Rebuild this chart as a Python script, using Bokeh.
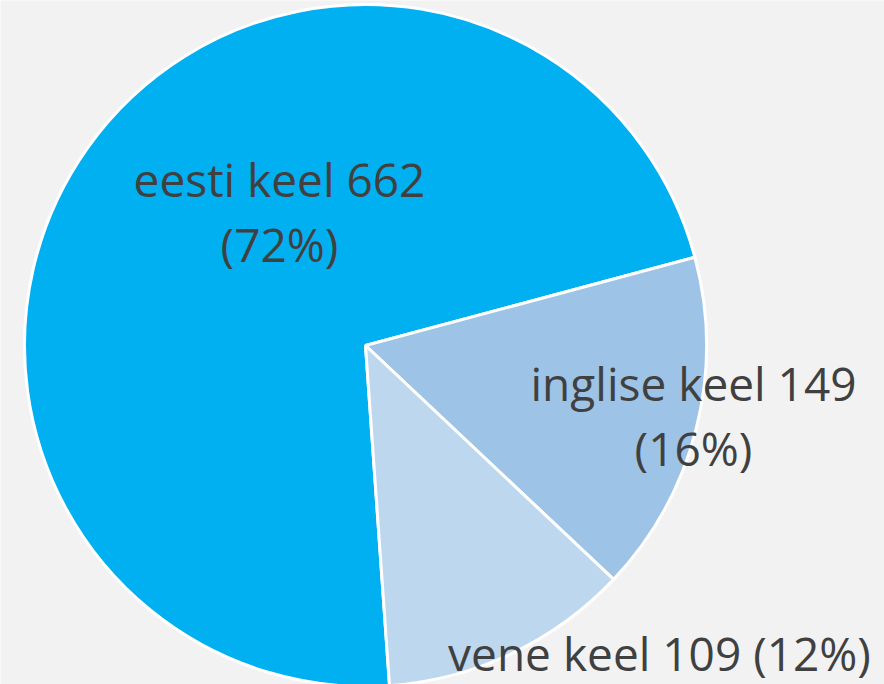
import math
from bokeh.plotting import figure
from bokeh.models import Range1d, ColumnDataSource
from bokeh.core.properties import value
from bokeh.embed import file_html
from bokeh.resources import INLINE

# ---- data ----
categories = ["eesti keel", "inglise keel", "vene keel"]
counts = [662, 149, 109]
percents = ["72%", "16%", "12%"]
colors = ["#00b0f0", "#9dc3e6", "#bdd7ee"]

# ---- layout ----
W, H = 884, 684
cx, cy, R = 365, 339, 341
first_angle = 274.04  # degrees, start of first slice (clockwise)

total = sum(counts)
starts, ends = [], []
a = math.radians(first_angle)
for c in counts:
    sweep = 2 * math.pi * c / total
    starts.append(a)
    ends.append(a - sweep)
    a -= sweep

src = ColumnDataSource(dict(start=starts, end=ends, color=colors))

p = figure(width=W, height=H, x_range=Range1d(0, W), y_range=Range1d(0, H),
           output_backend="svg", toolbar_location=None, min_border=0,
           background_fill_color="#f2f2f2", border_fill_color="#f2f2f2")
p.axis.visible = False
p.grid.visible = False
p.outline_line_color = None

p.wedge(x=cx, y=cy, radius=R, start_angle="start", end_angle="end",
        direction="clock", fill_color="color", line_color="white",
        line_width=3, source=src)

font = value("Open Sans")
fs = "46px"
tc = "#404040"
# label lines: (text, x, baseline y)
lines = [
    (f"{categories[0]} {counts[0]}", 279, 506),
    (f"({percents[0]})", 279, 441),
    (f"{categories[1]} {counts[1]}", 693, 302),
    (f"({percents[1]})", 693, 237),
    (f"{categories[2]} {counts[2]} ({percents[2]})", 659, 32),
]
p.text(x=[l[1] for l in lines], y=[l[2] for l in lines], text=[l[0] for l in lines],
       text_font=font, text_font_size=fs, text_color=tc,
       text_align="center", text_baseline="alphabetic")

open("out.html", "w").write(file_html(p, INLINE))
